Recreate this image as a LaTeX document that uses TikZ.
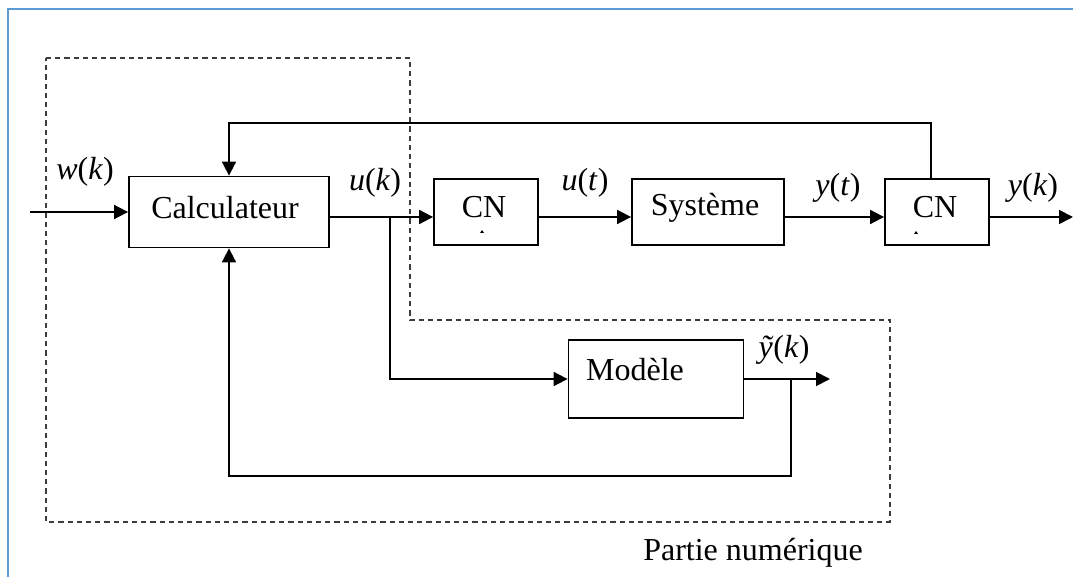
\documentclass[tikz,border=0pt]{standalone}
\usepackage{fontspec}
\setmainfont{Liberation Serif}
\usetikzlibrary{arrows.meta}
\definecolor{frameblue}{RGB}{91,155,213}
\definecolor{dashgrey}{RGB}{60,60,60}
\begin{document}
\begin{tikzpicture}[x=0.5pt,y=-0.5pt,
  every node/.style={font=\fontsize{16}{19}\selectfont},
  block/.style={draw,line width=0.9pt,inner sep=0pt},
  wire/.style={line width=0.9pt},
  arr/.style={wire,-{Triangle[length=7pt,width=7pt]}},
  zone/.style={dashgrey,line width=0.9pt,dash pattern=on 2.6pt off 2pt},
  lbl/.style={inner sep=0pt},
  low/.style={yshift=-2.5pt}]
\useasboundingbox (0,0) rectangle (1073,577);
% page frame
\draw[frameblue,line width=1.2pt] (8,577) -- (8,9) -- (1073,9);

% digital part outline
\draw[zone] (46,58) -- (410,58) -- (410,320) -- (890,320) -- (890,522) -- (46,522) -- cycle;
\node[lbl] (zonelbl) at (753,553) {Partie numérique};

% blocks
\node[block,minimum width=100pt,minimum height=35.5pt] (calc) at (229,212) {};
\node[lbl] at (225,208) {Calculateur};
\node[block,minimum width=52pt,minimum height=33pt] (cn1) at (486,212) {};
\node[lbl] at (484,207) {CN};
\fill (482,230) -- (484,233) -- (480,233) -- cycle;
\node[block,minimum width=76pt,minimum height=33pt] (sys) at (708,212) {};
\node[lbl] at (705,208) {Système};
\node[block,minimum width=52pt,minimum height=33pt] (cn2) at (937,212) {};
\node[lbl] at (935,207) {CN};
\fill (916,231) -- (918,234) -- (914,234) -- cycle;
\node[block,minimum width=87.5pt,minimum height=39pt] (model) at (656,379) {};
\node[lbl] at (635,370) {Modèle};

% signal labels
\node[lbl] at (85,172) {\textit{w}(\textit{k})};
\node[lbl] at (375,183) {\textit{u}(\textit{k})};
\node[lbl] at (585,183) {\textit{u}(\textit{t})};
\node[lbl] at (838,188) {\textit{y}(\textit{t})};
\node[lbl] at (1033,188) {\textit{y}(\textit{k})};
\node[lbl] at (784,350) {\textit{ỹ}(\textit{k})};

% connection points
\coordinate (in) at (30,212);
\coordinate (ubr) at (390,217);
\coordinate (out) at (1073,217);
\coordinate (mout) at (830,379);
\coordinate (mbr) at (791,379);
\coordinate (fbot) at (791,476);
\coordinate (ftop) at (931,123);

% forward path
\draw[arr] (in) -- (calc.west);
\draw[arr] ([low]calc.east) -- ([low]cn1.west);
\draw[arr] ([low]cn1.east) -- ([low]sys.west);
\draw[arr] ([low]sys.east) -- ([low]cn2.west);
\draw[arr] ([low]cn2.east) -- (out);

% model branch
\draw[arr] (ubr) |- (model.west);
\draw[arr] (model.east) -- (mout);

% feedback loops
\draw[arr] (ftop |- cn2.north) -- (ftop) -| (calc.north);
\draw[arr] (mbr) -- (fbot) -| (calc.south);
\end{tikzpicture}
\end{document}
